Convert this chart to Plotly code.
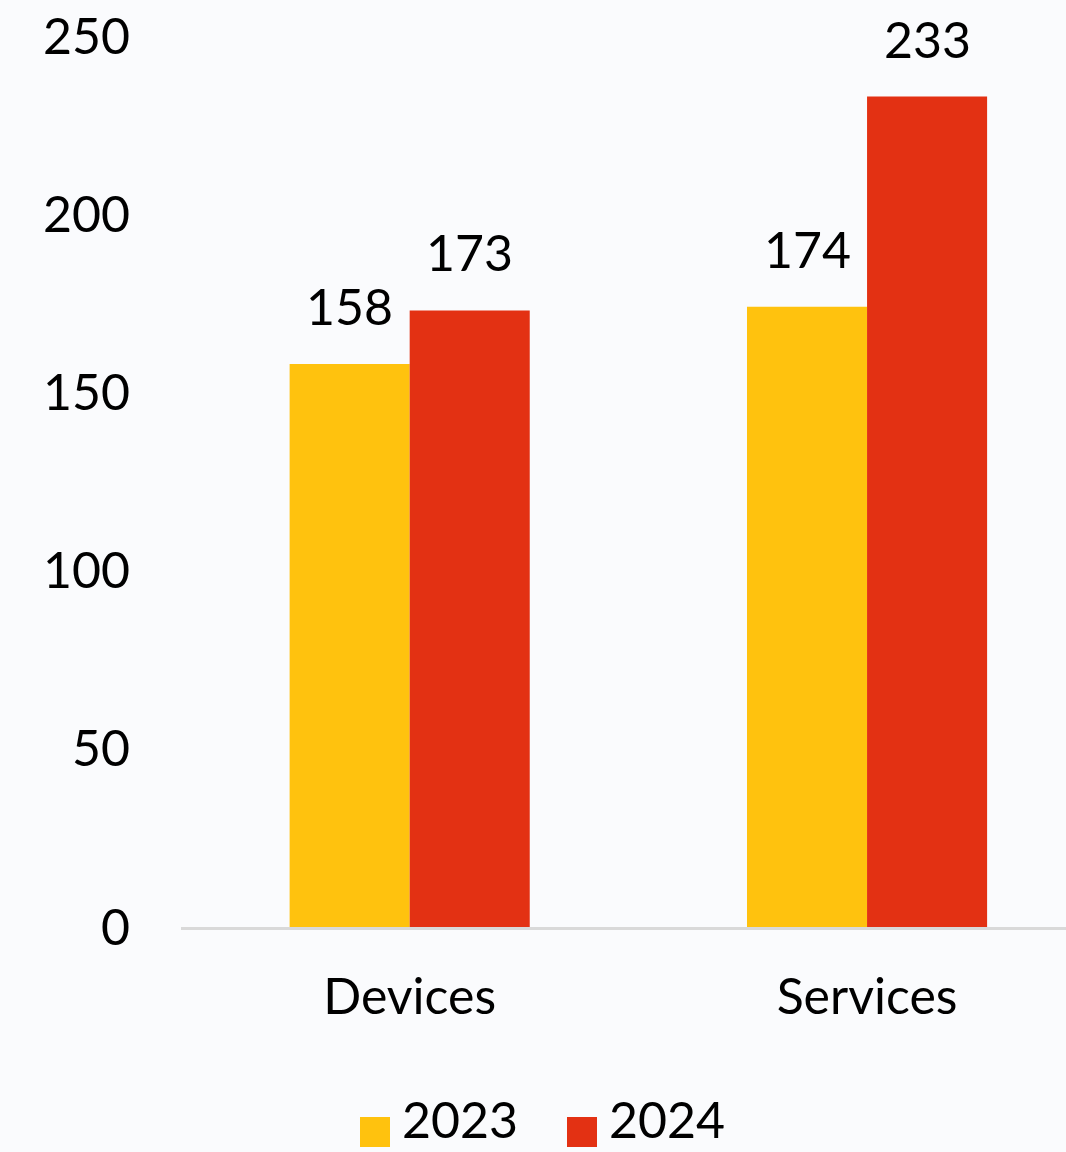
import plotly.graph_objects as go

categories = ["Devices", "Services"]
series_names = ["2023", "2024"]
values_2023 = [158, 174]
values_2024 = [173, 233]
colors = ["#FFC20E", "#E33113"]
y_ticks = [0, 50, 100, 150, 200, 250]

FONT = "Lato"
FS = 50
BG = "#FAFBFD"

fig = go.Figure()
for name, vals, col in zip(series_names, [values_2023, values_2024], colors):
    fig.add_trace(go.Bar(x=categories, y=vals, name=name, marker=dict(color=col, line=dict(width=0)),
                         showlegend=False))

# value labels
offsets = [-60, 60]
for vals, xs in zip([values_2023, values_2024], offsets):
    for c, v in zip(categories, vals):
        fig.add_annotation(x=c, y=v, text=str(v), xref="x", yref="y", showarrow=False,
                           xshift=xs, yshift=26, yanchor="bottom",
                           font=dict(family=FONT, size=FS, color="#000000"))

# custom legend
PW, PH = 885, 891
leg_x = [360, 567]
for name, col, lx in zip(series_names, colors, leg_x):
    fig.add_shape(type="rect", xref="paper", yref="paper",
                  x0=(lx - 181) / PW, x1=(lx + 30 - 181) / PW,
                  y0=-(1147 - 927) / PH, y1=-(1117 - 927) / PH,
                  fillcolor=col, line=dict(width=0))
    fig.add_annotation(x=(lx + 40 - 181) / PW, y=-(1151 - 927) / PH, xref="paper", yref="paper",
                       text=name, showarrow=False, xanchor="left", yanchor="bottom",
                       font=dict(family=FONT, size=FS, color="#000000"))

fig.update_layout(
    width=1066, height=1152,
    margin=dict(l=181, r=0, t=36, b=225),
    paper_bgcolor=BG, plot_bgcolor=BG,
    barmode="group", bargap=0.475, bargroupgap=0,
    font=dict(family=FONT, size=FS, color="#000000"),
    showlegend=False,
)
fig.update_xaxes(range=[-0.5, 1.435], showline=True, linecolor="#D9D9D9", linewidth=3,
                 showgrid=False, zeroline=False, ticks="", ticklabelstandoff=24,
                 tickfont=dict(family=FONT, size=FS, color="#000000"))
fig.update_yaxes(range=[0, 250], tickvals=y_ticks, showgrid=False, zeroline=False,
                 showline=False, ticks="", ticklabelstandoff=50,
                 tickfont=dict(family=FONT, size=FS, color="#000000"))

fig.write_html("out.html")
